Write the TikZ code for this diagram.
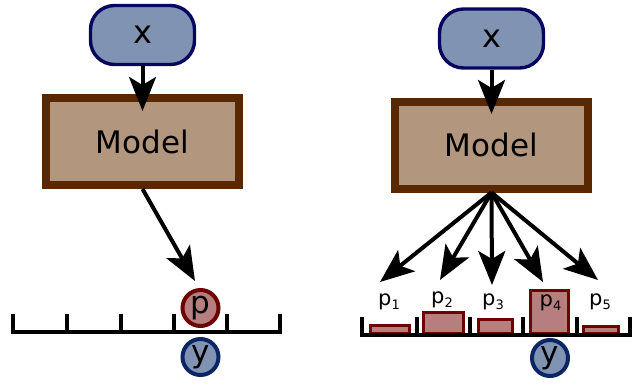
\documentclass[tikz,border=0pt]{standalone}
\usepackage{fontspec}
\setmainfont{DejaVu Sans}
\usetikzlibrary{arrows.meta}
\definecolor{xfill}{HTML}{8093B3}
\definecolor{xborder}{HTML}{060660}
\definecolor{mfill}{HTML}{B3967E}
\definecolor{mborder}{HTML}{5A2800}
\definecolor{pfill}{HTML}{B77E80}
\definecolor{pborder}{HTML}{6E0000}
\definecolor{yborder}{HTML}{0B2565}
\tikzset{
  inbox/.style={draw=xborder, fill=xfill, line width=3.4pt, rounded corners=24pt,
    minimum width=104pt, minimum height=59pt, inner sep=0pt,
    font=\fontsize{32}{32}\selectfont},
  modelbox/.style={draw=mborder, fill=mfill, line width=8pt,
    minimum width=193pt, minimum height=87pt, inner sep=0pt,
    font=\fontsize{31}{31}\selectfont},
  pcirc/.style={circle, draw=pborder, fill=pfill, line width=4pt,
    minimum size=36pt, inner sep=0pt, font=\fontsize{31}{31}\selectfont},
  ycirc/.style={circle, draw=yborder, fill=xfill, line width=4pt,
    minimum size=36pt, inner sep=0pt, font=\fontsize{31}{31}\selectfont},
  bar/.style={draw=pborder, fill=pfill, line width=3pt},
  axis/.style={line width=3.5pt, line cap=rect},
  arr/.style={line width=4pt, -{Stealth[length=34pt 0 0, width=27pt 0 0, inset=8pt]}},
  plabel/.style={inner sep=0pt, font=\fontsize{21}{21}\selectfont}
}
\newcommand{\psub}[1]{p\raisebox{-4pt}{\fontsize{13}{13}\selectfont #1}}
\begin{document}
\begin{tikzpicture}[x=1pt, y=-1pt]
\useasboundingbox (0,0) rectangle (641,384);
% ---------- left ----------
\node[inbox] (xL) at (142.5,35) {x};
\node[modelbox] (mL) at (142.5,141.5) {Model};
\coordinate (tL1) at (142.5,111);
\draw[arr] (xL.south) -- (tL1);
\draw[axis] (13,316) -- (13,332) -- (280,332) -- (280,316);
\foreach \t in {67,121,174,227} \draw[axis] (\t,316) -- (\t,332);
\node[pcirc] (pL) at (200.5,308) {p};
\node[ycirc] (yL) at (200.5,357) {y};
\coordinate (tL2) at (195,281);
\draw[arr] (mL.south) -- (tL2);
% ---------- right ----------
\node[inbox] (xR) at (491.5,38.5) {x};
\node[modelbox] (mR) at (491.5,145) {Model};
\coordinate (tR0) at (491.5,114);
\draw[arr] (xR.south) -- (tR0);
\draw[bar] (370,333) rectangle (409,325.5);
\draw[bar] (423.5,333) rectangle (463.5,312.5);
\draw[bar] (478.5,333) rectangle (512.5,319.5);
\draw[bar] (530.5,333) rectangle (568.5,290.5);
\draw[bar] (583.5,333) rectangle (618.5,326.5);
\draw[axis] (362,319) -- (362,335) -- (630,335) -- (630,319);
\foreach \t in {417,470,523,577} \draw[axis] (\t,319) -- (\t,335);
\node[plabel] (p1) at (389,302) {\psub{1}};
\node[plabel] (p2) at (442,300) {\psub{2}};
\node[plabel] (p3) at (493,302) {\psub{3}};
\node[plabel] (p4) at (550.5,303) {\psub{4}};
\node[plabel] (p5) at (600,302) {\psub{5}};
\node[ycirc] (yR) at (550,358) {y};
\coordinate (a1) at (380,282);
\coordinate (a2) at (440,280);
\coordinate (a3) at (492,285);
\coordinate (a4) at (543,282);
\coordinate (a5) at (598,280);
\foreach \a in {a1,a2,a3,a4,a5} \draw[arr] (mR.south) -- (\a);
\end{tikzpicture}
\end{document}
